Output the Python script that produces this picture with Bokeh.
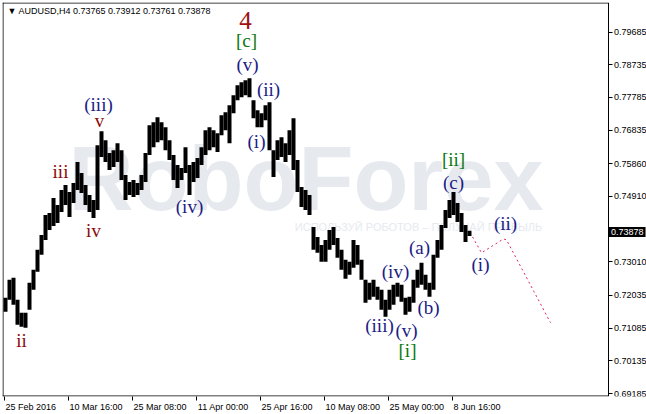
from bokeh.plotting import figure
from bokeh.models import Range1d, FixedTicker, Label, ColumnDataSource, PrintfTickFormatter
from bokeh.core.properties import value
from bokeh.embed import file_html
from bokeh.resources import INLINE

# ---- data (AUDUSD H4, sampled every 4 bars: high / low) ----
highs = [
    0.71967, 0.72489, 0.72547, 0.71909, 0.71532, 0.71532, 0.72402, 0.72778, 0.73358, 0.73793,
    0.74372, 0.74430, 0.74865, 0.74662, 0.75097, 0.75242, 0.75039, 0.75300, 0.75908, 0.75590,
    0.75242, 0.74952, 0.74807, 0.76401, 0.76807, 0.76546, 0.76169, 0.76256, 0.76459, 0.76256,
    0.75532, 0.75329, 0.75387, 0.75300, 0.75532, 0.76169, 0.76981, 0.77067, 0.77212, 0.77067,
    0.76923, 0.76546, 0.76111, 0.75821, 0.75734, 0.76343, 0.75821, 0.75908, 0.76024, 0.76343,
    0.76836, 0.76923, 0.76836, 0.76749, 0.77270, 0.77357, 0.77560, 0.77850, 0.78140, 0.78227,
    0.78285, 0.78343, 0.77705, 0.77415, 0.77328, 0.77560, 0.77647, 0.76256, 0.76546, 0.76633,
    0.76459, 0.76836, 0.77183, 0.75966, 0.75184, 0.75097, 0.74952, 0.74024, 0.73735, 0.73503,
    0.73648, 0.73938, 0.74024, 0.73706, 0.73358, 0.73068, 0.73010, 0.73648, 0.73503, 0.73068,
    0.72489, 0.72402, 0.72489, 0.72286, 0.72199, 0.71909, 0.72199, 0.72344, 0.72402, 0.72344,
    0.71967, 0.71996, 0.72489, 0.72778, 0.72981, 0.72634, 0.72402, 0.73213, 0.73648, 0.74082,
    0.74517, 0.74807, 0.75039, 0.74720, 0.74430, 0.74082, 0.73912,
]
lows = [
    0.71561, 0.71909, 0.71764, 0.71185, 0.71127, 0.71098, 0.71619, 0.72199, 0.72720, 0.73213,
    0.73648, 0.73938, 0.74053, 0.74140, 0.74459, 0.74662, 0.74314, 0.74720, 0.75097, 0.75010,
    0.74662, 0.74459, 0.74285, 0.74517, 0.76053, 0.75908, 0.75676, 0.75763, 0.75908, 0.75387,
    0.74807, 0.74952, 0.74894, 0.74952, 0.75097, 0.75329, 0.76111, 0.76343, 0.76488, 0.76546,
    0.76256, 0.75966, 0.75387, 0.75155, 0.75387, 0.75590, 0.74952, 0.75329, 0.75445, 0.75821,
    0.76111, 0.76256, 0.76343, 0.76198, 0.76691, 0.76836, 0.76459, 0.77328, 0.77705, 0.77792,
    0.77850, 0.77792, 0.77183, 0.76923, 0.76923, 0.77125, 0.76256, 0.75474, 0.75966, 0.76053,
    0.75908, 0.76111, 0.75676, 0.75039, 0.74604, 0.74517, 0.74372, 0.73358, 0.73271, 0.73010,
    0.73010, 0.73358, 0.73503, 0.73126, 0.72778, 0.72518, 0.72634, 0.72836, 0.72923, 0.72489,
    0.71822, 0.71909, 0.71996, 0.71909, 0.71619, 0.71416, 0.71619, 0.71764, 0.71996, 0.71851,
    0.71474, 0.71561, 0.71822, 0.72257, 0.72344, 0.72199, 0.71996, 0.72199, 0.73126, 0.73358,
    0.73996, 0.74285, 0.74372, 0.74169, 0.73880, 0.73590, 0.73761,
]
bar_step = 4  # bars per sample

x_tick_bars = [0, 64, 128, 192, 256, 320, 384, 448]
x_tick_labels = ["25 Feb 2016", "10 Mar 16:00", "25 Mar 08:00", "11 Apr 00:00",
                 "25 Apr 16:00", "10 May 08:00", "25 May 00:00", "8 Jun 16:00"]
y_ticks = [0.79685, 0.78735, 0.77785, 0.76835, 0.75860, 0.74910,
           0.73010, 0.72035, 0.71085, 0.70135, 0.69185]
last_price = 0.73878
title_text = "\u25BC AUDUSD,H4  0.73765 0.73912 0.73761 0.73878"

# Elliott wave labels
wave_text = ["4", "[c]", "(v)", "(ii)", "(i)", "(iii)", "v", "iii", "iv", "ii", "(iv)",
             "[ii]", "(c)", "(a)", "(iv)", "(b)", "(iii)", "(v)", "[i]", "(i)", "(ii)"]
wave_bar = [242, 243, 244, 265, 253, 95, 96, 57, 90, 18, 186,
            450, 450, 416, 392, 425, 376, 403, 404, 477, 502]
wave_price = [0.80023, 0.79444, 0.78748, 0.78024, 0.76517, 0.77589, 0.77125, 0.75647,
              0.73909, 0.70721, 0.74604, 0.75995, 0.75329, 0.73416, 0.72720, 0.71677,
              0.71156, 0.71011, 0.70431, 0.72923, 0.74112]
wave_kind = ["big", "green", "navy", "navy", "navy", "navy", "red", "red", "red", "red", "navy",
             "green", "navy", "navy", "navy", "navy", "navy", "navy", "green", "navy", "navy"]

# projected path
proj_bar = [469, 478, 500, 503, 547]
proj_price = [0.73735, 0.73271, 0.73677, 0.73648, 0.71242]

# watermark
wm_text = ["RoboForex"]
wm_sub = ["ИСПОЛЬЗУЙ РОБОТОВ \u2013 ПОЛУЧАЙ ПРИБЫЛЬ"]

# ---- figure ----
W, H = 646, 414
B_LEFT, B_TOP, B_BOTTOM = 2, 2, 17
frame_w, frame_h = W - B_LEFT, H - B_TOP - B_BOTTOM
x_lo = -1
x_hi = x_lo + frame_w          # 1 px per bar
axis_x = 604.5                  # price scale sits here (inside the frame area)
y_lo, y_hi = 0.69098, 0.80545
ppp = frame_h / (y_hi - y_lo)  # pixels per price unit

p = figure(width=W, height=H, x_range=Range1d(x_lo, x_hi), y_range=Range1d(y_lo, y_hi),
           output_backend="svg", toolbar_location=None, y_axis_location="right",
           min_border_left=B_LEFT, min_border_top=B_TOP, min_border_right=0,
           min_border_bottom=B_BOTTOM)
p.background_fill_color = "white"
p.border_fill_color = "white"
p.outline_line_color = None
p.grid.visible = False

# watermark (drawn first, under the bars)
p.text(x=[65], y=[0.75416], text=wm_text, text_font=value("Liberation Sans"),
       text_font_style="bold", text_font_size="90px", text_color="#e6eaef",
       text_align="left", text_baseline="middle")
p.text(x=[415], y=[0.74024], text=wm_sub, text_font=value("Liberation Sans"),
       text_font_size="11px", text_color="#e6eaef", text_align="center",
       text_baseline="middle")

# chart frame (left, top, bottom edges; right edge is the price scale line)
half_px_x = 0.5
half_px_y = 0.5 / ppp
p.segment(x0=[x_lo + half_px_x, x_lo, x_lo], y0=[y_lo, y_hi - half_px_y, y_lo + half_px_y],
          x1=[x_lo + half_px_x, axis_x, axis_x], y1=[y_hi, y_hi - half_px_y, y_lo + half_px_y],
          line_color="black", line_width=1)

# bars
bx = [i * bar_step + 2 for i in range(len(highs))]
src = ColumnDataSource(dict(x=bx, top=highs, bottom=lows))
p.vbar(x="x", top="top", bottom="bottom", width=bar_step, source=src,
       fill_color="black", line_color=None)

# projection
p.line(proj_bar, proj_price, line_color="#e0245e", line_dash="2 3", line_width=1)

# wave labels
color_map = {"big": "#a01010", "green": "#0a780a", "navy": "#1c1c86", "red": "#8b0a0a"}
size_map = {"big": "25px", "green": "19px", "navy": "19px", "red": "19px"}
wsrc = ColumnDataSource(dict(x=wave_bar, y=wave_price, t=wave_text,
                             c=[color_map[k] for k in wave_kind],
                             s=[size_map[k] for k in wave_kind]))
p.text(x="x", y="y", text="t", source=wsrc, text_color="c", text_font_size="s",
       text_font=value("Liberation Serif"), text_align="center", text_baseline="middle")

# x axis: tick marks as minor ticks at the bar positions, labels left-aligned after them
char_w = {" ": 0.278, ":": 0.278, "F": 0.611, "e": 0.556, "b": 0.556, "M": 0.833,
          "a": 0.556, "r": 0.333, "A": 0.667, "p": 0.556, "J": 0.5, "u": 0.556,
          "n": 0.556, "y": 0.5}
def text_w(s, size=9):
    return sum(char_w.get(ch, 0.556) for ch in s) * size
centers = [round(t + 2 + text_w(l) / 2, 2) for t, l in zip(x_tick_bars, x_tick_labels)]

xa = p.xaxis[0]
xa.ticker = FixedTicker(ticks=centers, minor_ticks=[t + 0.5 for t in x_tick_bars])
xa.major_label_overrides = {c: l for c, l in zip(centers, x_tick_labels)}
xa.major_label_text_font = "Liberation Sans"
xa.major_label_text_font_size = "9px"
xa.major_label_text_color = "black"
xa.major_label_standoff = 1
xa.major_tick_line_color = None
xa.major_tick_out = 4
xa.major_tick_in = 0
xa.minor_tick_line_color = "black"
xa.minor_tick_out = 4
xa.minor_tick_in = 0
xa.axis_line_color = None

ya = p.yaxis[0]
ya.fixed_location = axis_x
ya.ticker = FixedTicker(ticks=y_ticks)
ya.formatter = PrintfTickFormatter(format="%.5f")
ya.major_label_text_font = "Liberation Sans"
ya.major_label_text_font_size = "9px"
ya.major_label_text_color = "black"
ya.major_tick_out = 4
ya.major_tick_in = 0
ya.minor_tick_line_color = None
ya.axis_line_color = "black"
ya.major_label_standoff = 2

# title
p.add_layout(Label(x=4, y=y_hi - 9 / ppp, text=title_text, text_font="Liberation Sans",
                   text_font_size="9px", text_color="black", text_align="left",
                   text_baseline="middle"))

# last price box
p.add_layout(Label(x=axis_x, x_offset=1, y=last_price, text="%.5f" % last_price,
                   text_font="Liberation Sans", text_font_size="9px", text_color="white",
                   background_fill_color="black", text_align="left", text_baseline="middle",
                   padding=2))

open("out.html", "w").write(file_html(p, INLINE))
